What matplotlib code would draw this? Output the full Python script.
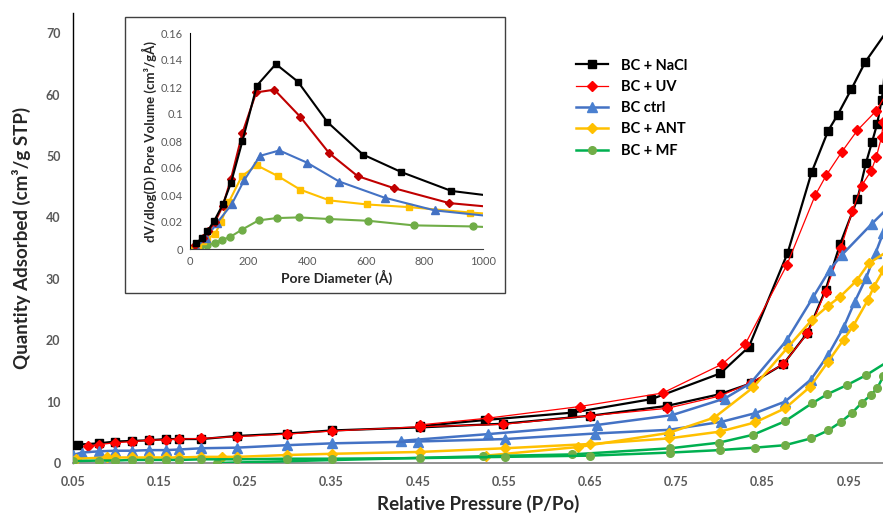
#!/usr/bin/env python3
"""Isotermas de adsorcion N2 (BET) con distribucion de poros en recuadro."""

import matplotlib
matplotlib.use("Agg")
import matplotlib.pyplot as plt
from matplotlib.lines import Line2D
from matplotlib.patches import Rectangle

# --- Isotermas: rama de adsorcion (ads) y desorcion (des) ---
nacl_ads_p = [0.056, 0.080, 0.099, 0.119, 0.138, 0.158, 0.173, 0.199, 0.240, 0.298, 0.350, 0.453,
              0.549, 0.650, 0.739, 0.800, 0.837, 0.874, 0.902, 0.923, 0.940, 0.960, 0.970, 0.977,
              0.983, 0.988, 0.990, 0.995]
nacl_ads_q = [3.0, 3.2, 3.5, 3.6, 3.7, 3.9, 3.9, 3.9, 4.4, 4.8, 5.3, 5.8,
              6.4, 7.7, 9.3, 11.2, 13.0, 16.1, 21.2, 28.2, 35.7, 43.0, 48.9, 52.3,
              55.3, 59.1, 60.9, 70.5]
nacl_des_p = [0.995, 0.969, 0.953, 0.937, 0.926, 0.907, 0.879, 0.834, 0.801, 0.721, 0.629, 0.528, 0.453]
nacl_des_q = [70.5, 65.3, 60.9, 56.7, 54.1, 47.4, 34.2, 18.9, 14.6, 10.4, 8.2, 7.0, 6.0]

uv_ads_p = [0.067, 0.080, 0.099, 0.119, 0.138, 0.158, 0.173, 0.199, 0.240, 0.298, 0.350, 0.452,
            0.549, 0.650, 0.739, 0.800, 0.837, 0.874, 0.902, 0.923, 0.941, 0.954, 0.965, 0.976,
            0.982, 0.988, 0.990, 0.995]
uv_ads_q = [2.7, 3.0, 3.3, 3.5, 3.7, 3.8, 3.9, 4.0, 4.3, 4.7, 5.2, 5.9,
            6.3, 7.7, 8.9, 10.9, 13.1, 16.1, 21.1, 27.9, 35.1, 41.0, 45.2, 47.6,
            49.9, 53.1, 55.6, 60.5]
uv_des_p = [0.995, 0.982, 0.960, 0.942, 0.924, 0.911, 0.878, 0.830, 0.803, 0.734, 0.638, 0.531, 0.452]
uv_des_q = [60.5, 57.4, 54.2, 50.7, 46.9, 43.6, 32.2, 19.4, 16.1, 11.4, 9.2, 7.3, 6.2]

ctrl_ads_p = [0.050, 0.060, 0.080, 0.099, 0.119, 0.138, 0.158, 0.173, 0.199, 0.240, 0.298, 0.350,
              0.450, 0.551, 0.655, 0.741, 0.802, 0.841, 0.876, 0.906, 0.926, 0.944, 0.957, 0.970,
              0.981, 0.990, 0.995]
ctrl_ads_q = [1.3, 1.7, 1.9, 2.0, 2.0, 2.1, 2.1, 2.2, 2.4, 2.5, 2.9, 3.2,
              3.5, 3.9, 4.8, 5.4, 6.7, 8.1, 10.0, 13.6, 17.6, 22.1, 26.3, 30.1,
              34.2, 37.5, 41.5]
ctrl_des_p = [0.995, 0.977, 0.942, 0.928, 0.909, 0.878, 0.836, 0.806, 0.745, 0.658, 0.531, 0.430]
ctrl_des_q = [41.5, 39.0, 33.9, 31.5, 27.1, 20.0, 13.0, 10.5, 7.8, 6.2, 4.7, 3.6]

ant_ads_p = [0.054, 0.090, 0.099, 0.119, 0.138, 0.158, 0.173, 0.199, 0.223, 0.240, 0.298, 0.350,
             0.452, 0.551, 0.650, 0.741, 0.800, 0.841, 0.876, 0.905, 0.926, 0.944, 0.955, 0.972,
             0.979, 0.990, 0.995]
ant_ads_q = [0.7, 0.9, 0.9, 0.9, 0.9, 0.9, 0.9, 1.0, 1.0, 1.0, 1.3, 1.5,
             1.8, 2.4, 3.1, 4.0, 5.1, 6.6, 8.9, 12.4, 16.5, 20.1, 22.3, 26.5,
             28.7, 31.4, 34.5]
ant_des_p = [0.995, 0.973, 0.959, 0.940, 0.926, 0.907, 0.879, 0.839, 0.794, 0.741, 0.636, 0.529]
ant_des_q = [34.5, 32.5, 29.7, 27.1, 25.6, 23.3, 18.8, 12.3, 7.4, 4.9, 2.6, 1.2]

mf_ads_p = [0.050, 0.080, 0.099, 0.119, 0.138, 0.158, 0.173, 0.199, 0.240, 0.298, 0.350, 0.452,
            0.551, 0.650, 0.743, 0.800, 0.841, 0.876, 0.906, 0.926, 0.941, 0.954, 0.965, 0.976,
            0.983, 0.990, 0.995]
mf_ads_q = [0.3, 0.4, 0.4, 0.5, 0.5, 0.5, 0.5, 0.6, 0.6, 0.7, 0.7, 0.8,
            1.0, 1.2, 1.7, 2.1, 2.5, 2.9, 4.0, 5.3, 6.7, 8.2, 9.8, 11.1,
            12.2, 14.1, 16.5]
mf_des_p = [0.995, 0.970, 0.948, 0.925, 0.907, 0.876, 0.839, 0.799, 0.743, 0.629, 0.526, 0.217]
mf_des_q = [16.5, 14.3, 12.7, 11.2, 9.7, 6.8, 4.6, 3.3, 2.4, 1.4, 1.1, 0.0]

# --- Distribucion de tamano de poro (recuadro) ---
nacl_d = [20, 42, 59, 83, 112, 140, 179, 228, 293, 368, 469, 590, 721, 892, 1060]
nacl_v = [0.0044, 0.008, 0.013, 0.021, 0.033, 0.049, 0.080, 0.121, 0.137, 0.124, 0.094, 0.070,
          0.057, 0.043, 0.0385]
uv_d = [17, 43, 63, 85, 112, 140, 179, 226, 288, 376, 475, 572, 697, 885, 1060]
uv_v = [0.003, 0.008, 0.013, 0.020, 0.032, 0.052, 0.086, 0.116, 0.118, 0.098, 0.071, 0.054,
        0.045, 0.034, 0.0305]
ctrl_d = [20, 55, 91, 142, 185, 239, 305, 399, 509, 664, 835, 1060]
ctrl_v = [0.0015, 0.008, 0.019, 0.033, 0.051, 0.069, 0.073, 0.064, 0.050, 0.038, 0.0286, 0.0235]
ant_d = [14, 28, 46, 59, 85, 106, 133, 177, 228, 300, 376, 476, 604, 749, 957, 1060]
ant_v = [0.0007, 0.003, 0.006, 0.0074, 0.011, 0.020, 0.035, 0.054, 0.062, 0.054, 0.044, 0.036,
         0.033, 0.031, 0.027, 0.0255]
mf_d = [14, 34, 59, 85, 110, 137, 177, 234, 296, 372, 476, 609, 763, 966, 1060]
mf_v = [0.0, 0.0015, 0.0032, 0.0044, 0.0069, 0.0089, 0.0143, 0.0212, 0.0229, 0.0234, 0.0222,
        0.0209, 0.0175, 0.0167, 0.0158]

labels = ["BC + NaCl", "BC + UV", "BC ctrl", "BC + ANT", "BC + MF"]
x_ticks = [0.05, 0.15, 0.25, 0.35, 0.45, 0.55, 0.65, 0.75, 0.85, 0.95]
y_ticks = [0, 10, 20, 30, 40, 50, 60, 70]
inset_x_ticks = [0, 200, 400, 600, 800, 1000]
inset_y_ticks = [0, 0.02, 0.04, 0.06, 0.08, 0.1, 0.12, 0.14, 0.16]

STYLES = [
    dict(color="black", marker="s", ms=6, lw=1.6, mfc="black", mec="black"),
    dict(color="#FF0000", marker="D", ms=5.5, lw=0.9, mfc="#FF0000", mec="#FF0000"),
    dict(color="#4472C4", marker="^", ms=7, lw=1.8, mfc="#4A80D0", mec="#4A80D0"),
    dict(color="#FFC000", marker="D", ms=5.5, lw=1.8, mfc="#FFC000", mec="#FFC000"),
    dict(color="#00B050", marker="o", ms=5.5, lw=1.8, mfc="#70AD47", mec="#70AD47"),
]
INSET_STYLES = [
    dict(color="black", marker="s", ms=5, lw=1.5),
    dict(color="#C00000", marker="D", ms=4, lw=1.5, mfc="#C00000", mec="#C00000"),
    dict(color="#4472C4", marker="^", ms=5.5, lw=1.5),
    dict(color="#FFC000", marker="s", ms=5, lw=1.5),
    dict(color="#70AD47", marker="o", ms=5, lw=1.5),
]

FONT = ["Lato", "DejaVu Sans"]
TICK_GRAY = "#595959"


def draw_main(ax):
    series = [
        (nacl_ads_p, nacl_ads_q, nacl_des_p, nacl_des_q),
        (uv_ads_p, uv_ads_q, uv_des_p, uv_des_q),
        (ctrl_ads_p, ctrl_ads_q, ctrl_des_p, ctrl_des_q),
        (ant_ads_p, ant_ads_q, ant_des_p, ant_des_q),
        (mf_ads_p, mf_ads_q, mf_des_p, mf_des_q),
    ]
    # se dibuja de abajo hacia arriba para que negro/rojo queden encima
    for i in reversed(range(len(series))):
        ap, aq, dp, dq = series[i]
        st = STYLES[i]
        ax.plot(dp, dq, **st, zorder=3 + i * 0.1)
        ax.plot(ap, aq, **st, zorder=3 + i * 0.1)

    ax.set_xlim(0.05, 0.05 + 810 / 862)
    ax.set_ylim(0, 73.3)
    ax.set_xticks(x_ticks)
    ax.set_xticklabels(["{:.2f}".format(t) for t in x_ticks])
    ax.set_yticks(y_ticks)
    ax.tick_params(length=0, pad=9, labelsize=9, colors=TICK_GRAY)
    for lab in ax.get_xticklabels() + ax.get_yticklabels():
        lab.set_fontweight("bold")
        lab.set_family(FONT)
    ax.spines["top"].set_visible(False)
    ax.spines["right"].set_visible(False)
    ax.spines["left"].set_color("black")
    ax.spines["bottom"].set_color("#7F7F7F")
    ax.spines["left"].set_linewidth(1.0)
    ax.spines["bottom"].set_linewidth(1.2)

    ax.set_xlabel("Relative Pressure (P/Po)", fontsize=13.5, fontweight="bold",
                  family=FONT, color="#262626", labelpad=5)
    ax.set_ylabel("Quantity Adsorbed (cm³/g STP)", fontsize=13.5, fontweight="bold",
                  family=FONT, color="#262626", labelpad=11)

    handles = [Line2D([], [], **st) for st in STYLES]
    leg = ax.legend(handles, labels, loc="upper left", bbox_to_anchor=(0.605, 0.928),
                    frameon=False, handlelength=2.2, handletextpad=0.9, labelspacing=0.5,
                    prop=dict(family=FONT, weight="bold", size=10.5))
    for t in leg.get_texts():
        t.set_color("black")


def draw_inset(fig, ax):
    # marco del recuadro
    fig.patches.append(Rectangle((125 / 883, 1 - 293 / 518), 380 / 883, 276 / 518,
                                 transform=fig.transFigure, facecolor="white",
                                 edgecolor="#404040", lw=1.0, zorder=5))
    curves = [(nacl_d, nacl_v), (uv_d, uv_v), (ctrl_d, ctrl_v), (ant_d, ant_v), (mf_d, mf_v)]
    for i in reversed(range(len(curves))):
        d, v = curves[i]
        ax.plot(d, v, **INSET_STYLES[i])

    ax.set_xlim(0, 1000)
    ax.set_ylim(0, 0.16)
    ax.set_xticks(inset_x_ticks)
    ax.set_yticks(inset_y_ticks)
    ax.set_yticklabels(["0", "0.02", "0.04", "0.06", "0.08", "0.1", "0.12", "0.14", "0.16"])
    ax.tick_params(length=0, pad=5, labelsize=8, colors=TICK_GRAY)
    for lab in ax.get_xticklabels() + ax.get_yticklabels():
        lab.set_family(FONT)
    ax.spines["top"].set_visible(False)
    ax.spines["right"].set_visible(False)
    ax.spines["left"].set_color("black")
    ax.spines["bottom"].set_color("#404040")
    ax.set_xlabel("Pore Diameter (Å)", fontsize=10, fontweight="bold", family=FONT,
                  color="#262626", labelpad=2)
    ax.set_ylabel("dV/dlog(D) Pore Volume (cm³/gÅ)", fontsize=9.5, fontweight="bold",
                  family=FONT, color="#262626", labelpad=3)


def main():
    fig = plt.figure(figsize=(8.83, 5.18), dpi=100)
    ax = fig.add_axes([73 / 883, 55 / 518, 810 / 883, 450 / 518])
    draw_main(ax)

    inset = fig.add_axes([190 / 883, 1 - 249 / 518, 293 / 883, 216 / 518], zorder=10)
    draw_inset(fig, inset)

    fig.savefig("out.png", dpi=100)
    return 0


if __name__ == "__main__":
    main()
